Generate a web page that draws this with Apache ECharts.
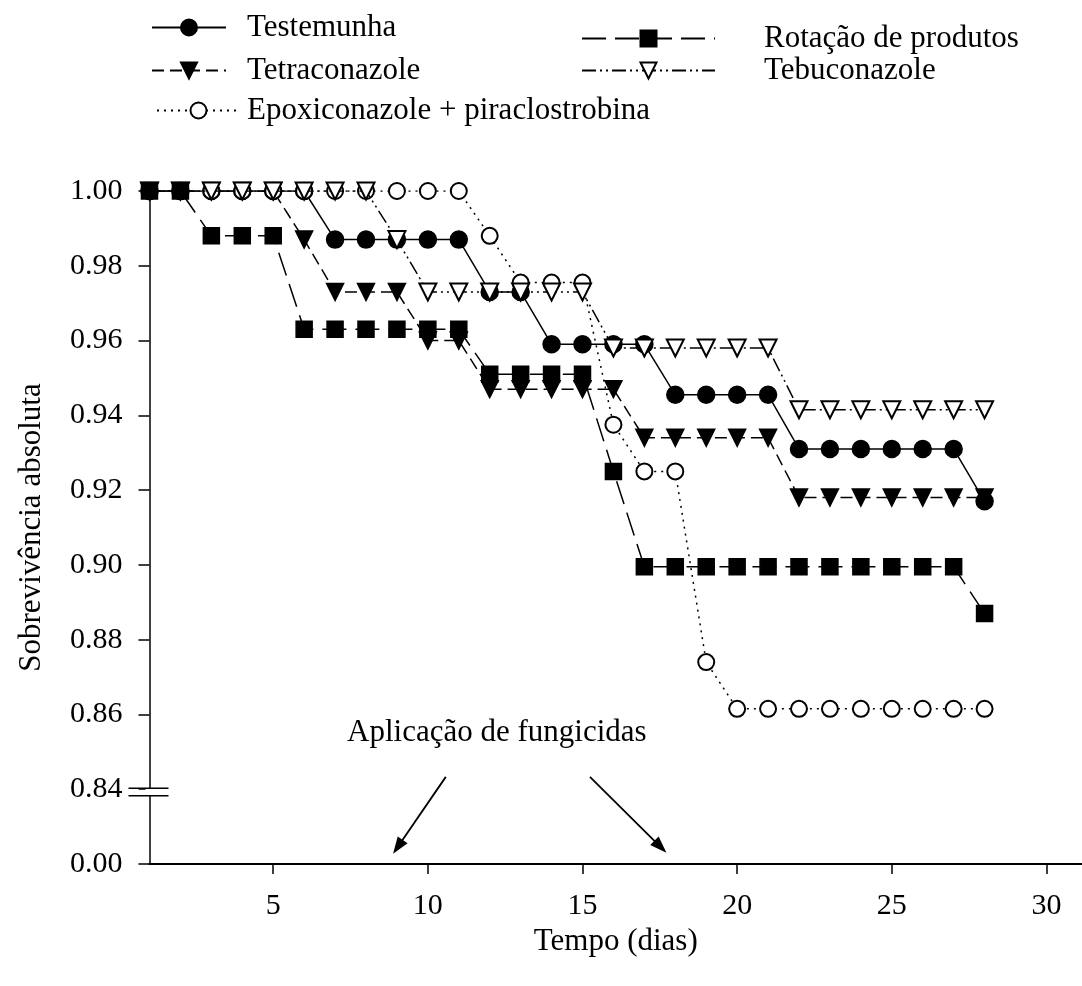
<!DOCTYPE html>
<html>
<head>
<meta charset="utf-8">
<script src="https://cdn.jsdelivr.net/npm/echarts@6/dist/echarts.min.js"></script>
<style>html,body{margin:0;padding:0;background:#fff}#c{width:1082px;height:986px}</style>
</head>
<body>
<div id="c"></div>
<script>
// ---- data ----
const days = [1,2,3,4,5,6,7,8,9,10,11,12,13,14,15,16,17,18,19,20,21,22,23,24,25,26,27,28];
const testemunha   = [1,1,1,1,1,1,0.987,0.987,0.987,0.987,0.987,0.973,0.973,0.959,0.959,0.959,0.959,0.9455,0.9455,0.9455,0.9455,0.931,0.931,0.931,0.931,0.931,0.931,0.917];
const tetraconazole= [1,1,1,1,1,0.987,0.973,0.973,0.973,0.960,0.960,0.947,0.947,0.947,0.947,0.947,0.934,0.934,0.934,0.934,0.934,0.918,0.918,0.918,0.918,0.918,0.918,0.918];
const rotacao      = [1,1,0.988,0.988,0.988,0.963,0.963,0.963,0.963,0.963,0.963,0.951,0.951,0.951,0.951,0.925,0.8995,0.8995,0.8995,0.8995,0.8995,0.8995,0.8995,0.8995,0.8995,0.8995,0.8995,0.887];
const tebuconazole = [1,1,1,1,1,1,1,1,0.987,0.973,0.973,0.973,0.973,0.973,0.973,0.958,0.958,0.958,0.958,0.958,0.958,0.9415,0.9415,0.9415,0.9415,0.9415,0.9415,0.9415];
const epoxiconazole= [1,1,1,1,1,1,1,1,1,1,1,0.988,0.9755,0.9755,0.9755,0.9375,0.925,0.925,0.874,0.8615,0.8615,0.8615,0.8615,0.8615,0.8615,0.8615,0.8615,0.8615];
const seriesNames = ['Testemunha','Tetraconazole','Epoxiconazole + piraclostrobina','Tebuconazole','Rotação de produtos'];
const xTickValues = [5,10,15,20,25,30];
const yBreakValue = 0.84;        // axis break drawn at this tick
const yBottomLabel = '0.00';     // label shown below the break
const annotationText = 'Aplicação de fungicidas';
const arrowLeft  = [[10.58,0.8433],[9.03,0.8246]];
const arrowRight = [[15.24,0.8433],[17.52,0.8246]];
const annotationPos = [12.23,0.855];

const FONT = '"Liberation Serif","Times New Roman",serif';
const toPts = arr => days.map((d,i)=>[d, arr[i]]);

const chart = echarts.init(document.getElementById('c'), null, {renderer:'canvas'});

function mkSeries(name, vals, symbol, size, dash, rotate, z){
  return {
    name, type:'line', data: toPts(vals), symbol, symbolSize:size, symbolRotate: rotate||0,
    showAllSymbol:true, z,
    itemStyle:{color:'#000', borderColor:'#000', borderWidth:1.5},
    lineStyle:{color:'#000', width:1.5, type:dash},
    emphasis:{disabled:true}, animation:false
  };
}

const legendBase = (name, left, top, w, pad) => ({
  data:[name], left, top, orient:'vertical', itemWidth:w, itemHeight:20, padding:5,
  selectedMode:false,
  textStyle:{fontFamily:FONT, fontSize:31, color:'#000', padding:[0,0,0,pad]}
});

const series = [
  mkSeries(seriesNames[0], testemunha, 'circle', 17, 'solid', 0, 2),
  mkSeries(seriesNames[1], tetraconazole, 'triangle', 17, [12,6], 180, 3),
  mkSeries(seriesNames[2], epoxiconazole, 'emptyCircle', 16, [2,5], 0, 4),
  mkSeries(seriesNames[3], tebuconazole, 'emptyTriangle', 17, [14,4,2,4,2,4], 180, 5),
  mkSeries(seriesNames[4], rotacao, 'rect', 16, [24,9], 0, 6)
];
// annotation arrows
series.push({
  type:'line', data:[], silent:true, z:7,
  markLine:{
    silent:true, symbol:['none','triangle'], symbolSize:[12,17], animation:false,
    label:{show:false},
    lineStyle:{color:'#000', width:1.8, type:'solid'},
    data:[
      [{coord:arrowLeft[0]},{coord:arrowLeft[1]}],
      [{coord:arrowRight[0]},{coord:arrowRight[1]}]
    ]
  }
});

chart.setOption({
  animation:false,
  backgroundColor:'#fff',
  grid:{left:149.5, right:0, top:191, bottom:122, containLabel:false},
  legend:[
    legendBase(seriesNames[0], 146, 7, 74, 16),
    legendBase(seriesNames[1], 146, 50, 74, 16),
    legendBase(seriesNames[2], 151, 90, 83, 2),
    legendBase(seriesNames[4], 576, 18, 133, 44),
    legendBase(seriesNames[3], 576, 50, 133, 44)
  ],
  xAxis:{
    type:'value', min:1, max:31.15,
    name:'Tempo (dias)', nameLocation:'middle', nameGap:62,
    nameTextStyle:{fontFamily:FONT, fontSize:31, color:'#000'},
    axisLine:{show:true, onZero:false, lineStyle:{color:'#000', width:2}},
    axisTick:{show:true, length:10, customValues:xTickValues, lineStyle:{color:'#000', width:1.5}},
    axisLabel:{customValues:xTickValues, margin:27, fontFamily:FONT, fontSize:30, color:'#000'},
    splitLine:{show:false}
  },
  yAxis:{
    type:'value', min:0.82, max:1.0, interval:0.02,
    name:'Sobrevivência absoluta', nameLocation:'middle', nameGap:102, nameRotate:90,
    nameTextStyle:{fontFamily:FONT, fontSize:31, color:'#000'},
    axisLine:{show:true, onZero:false, lineStyle:{color:'#000', width:1.5}},
    axisTick:{show:true, length:11, lineStyle:{color:'#000', width:1.5}},
    axisLabel:{margin:27, fontFamily:FONT, fontSize:30, color:'#000',
      formatter: v => (v < yBreakValue - 0.01 ? yBottomLabel : v.toFixed(2))},
    splitLine:{show:false}
  },
  series
});

// axis break marks and annotation text, positioned through the axes
const ax = chart.convertToPixel({gridIndex:0}, [1, yBreakValue]);
const tp = chart.convertToPixel({gridIndex:0}, annotationPos);
chart.setOption({
  graphic:[
    {type:'rect', shape:{x:ax[0]-4, y:ax[1]-1, width:8, height:7}, style:{fill:'#fff'}, z:50, silent:true},
    {type:'line', shape:{x1:ax[0]-21, y1:ax[1]-1, x2:ax[0]+19, y2:ax[1]-1}, style:{stroke:'#000', lineWidth:1.5}, z:51, silent:true},
    {type:'line', shape:{x1:ax[0]-21, y1:ax[1]+6.5, x2:ax[0]+19, y2:ax[1]+6.5}, style:{stroke:'#000', lineWidth:1.5}, z:51, silent:true},
    {type:'text', x:tp[0], y:tp[1], style:{text:annotationText, font:'31px "Liberation Serif","Times New Roman",serif', fill:'#000', align:'center', verticalAlign:'middle'}, z:52, silent:true}
  ]
});
</script>
</body>
</html>
